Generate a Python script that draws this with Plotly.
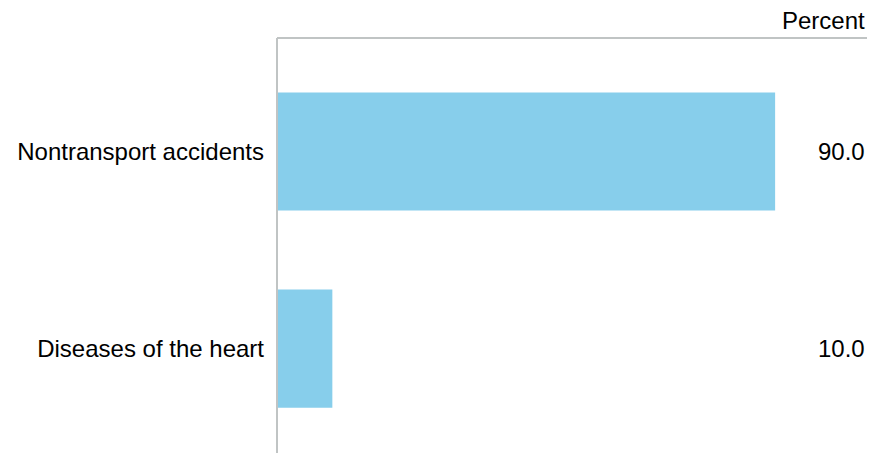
import plotly.graph_objects as go

categories = ["Nontransport accidents", "Diseases of the heart"]
values = [90.0, 10.0]
value_labels = ["90.0", "10.0"]

FS = 24

fig = go.Figure()
fig.add_trace(go.Bar(
    x=values, y=categories, orientation="h",
    marker=dict(color="#87CEEB", line=dict(width=0)),
    width=0.6, hoverinfo="skip", cliponaxis=False,
))

for cat, lab in zip(categories, value_labels):
    fig.add_annotation(x=1, xref="paper", y=cat, yref="y", text=lab,
                       showarrow=False, xanchor="right", xshift=0,
                       font=dict(size=FS, color="#000000"))

fig.add_annotation(x=1, xref="paper", y=1, yref="paper", text="Percent",
                   showarrow=False, xanchor="right", yanchor="bottom", xshift=0, yshift=2,
                   font=dict(size=FS, color="#000000"))

fig.add_shape(type="line", xref="paper", yref="paper", x0=0, x1=1, y0=1, y1=1,
              line=dict(color="#c0c4c4", width=2))
fig.add_shape(type="line", xref="paper", yref="paper", x0=0, x1=0, y0=0, y1=1,
              line=dict(color="#c0c4c4", width=2))

fig.update_layout(
    width=859, height=445,
    margin=dict(l=269, r=0, t=30, b=0),
    paper_bgcolor="white", plot_bgcolor="white",
    showlegend=False,
    font=dict(family="Liberation Sans, Arial, sans-serif", size=FS, color="#000000"),
    xaxis=dict(range=[0, 106.6], showgrid=False, zeroline=False, showticklabels=False,
               showline=False, ticks=""),
    yaxis=dict(type="category", range=[1.53, -0.576], showgrid=False, zeroline=False,
               showline=False, ticks="", ticklabelstandoff=12,
               tickfont=dict(size=FS, color="#000000")),
)

fig.write_html("out.html")
